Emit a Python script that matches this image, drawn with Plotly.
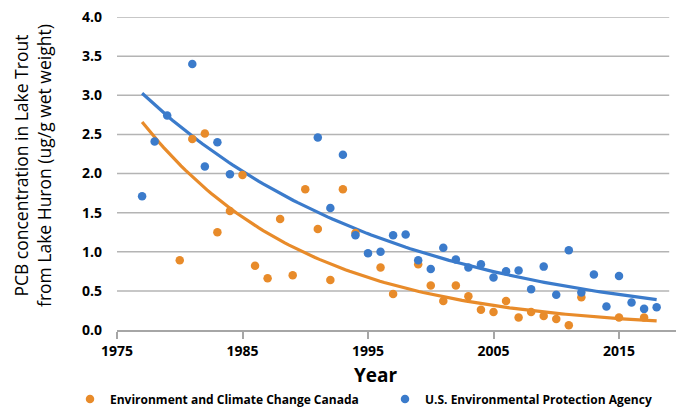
import numpy as np
import plotly.graph_objects as go

# ---- data ----
years_eccc = [1980, 1981, 1982, 1983, 1984, 1985, 1986, 1987, 1988, 1989, 1990, 1991, 1992,
              1993, 1994, 1996, 1997, 1999, 2000, 2001, 2002, 2003, 2004, 2005, 2006, 2007,
              2008, 2009, 2010, 2011, 2012, 2015, 2017]
pcb_eccc = [0.89, 2.44, 2.51, 1.25, 1.52, 1.98, 0.82, 0.66, 1.42, 0.70, 1.80, 1.29, 0.64,
            1.80, 1.24, 0.80, 0.46, 0.84, 0.57, 0.37, 0.57, 0.43, 0.26, 0.23, 0.37, 0.16,
            0.23, 0.18, 0.14, 0.06, 0.42, 0.16, 0.16]

years_epa = [1977, 1978, 1979, 1981, 1982, 1983, 1984, 1991, 1992, 1993, 1994, 1995, 1996,
             1997, 1998, 1999, 2000, 2001, 2002, 2003, 2004, 2005, 2006, 2007, 2008, 2009,
             2010, 2011, 2012, 2013, 2014, 2015, 2016, 2017, 2018]
pcb_epa = [1.71, 2.41, 2.74, 3.40, 2.09, 2.40, 1.99, 2.46, 1.56, 2.24, 1.21, 0.98, 1.00,
           1.21, 1.22, 0.89, 0.78, 1.05, 0.90, 0.80, 0.84, 0.67, 0.75, 0.76, 0.52, 0.81,
           0.45, 1.02, 0.48, 0.71, 0.30, 0.69, 0.35, 0.27, 0.29]

series_names = ["Environment and Climate Change Canada", "U.S. Environmental Protection Agency"]
trend_span = [1977, 2018]
x_ticks = [1975, 1985, 1995, 2005, 2015]
y_ticks = [0.0, 0.5, 1.0, 1.5, 2.0, 2.5, 3.0, 3.5, 4.0]

ORANGE = "#E88B2A"
BLUE = "#3B7BCB"


def exp_trend(x, y):
    """Excel-style exponential trendline: least squares on ln(y)."""
    b, a = np.polyfit(np.array(x, float), np.log(np.array(y, float)), 1)
    xs = np.linspace(trend_span[0], trend_span[1], 120)
    return xs, np.exp(a + b * xs)


# plot area in page pixels: x 117..683, y 17..330 (page has an 8px body margin)
def px(xp):
    return (xp - 117) / 566


def py(yp):
    return (330 - yp) / 313


fig = go.Figure()

for x, y, col in [(years_eccc, pcb_eccc, ORANGE), (years_epa, pcb_epa, BLUE)]:
    tx, ty = exp_trend(x, y)
    fig.add_trace(go.Scatter(x=tx, y=ty, mode="lines", line=dict(color=col, width=3.2),
                             showlegend=False, hoverinfo="skip"))

fig.add_trace(go.Scatter(x=years_eccc, y=pcb_eccc, mode="markers", name=series_names[0],
                         marker=dict(color=ORANGE, size=8.5)))
fig.add_trace(go.Scatter(x=years_epa, y=pcb_epa, mode="markers", name=series_names[1],
                         marker=dict(color=BLUE, size=8.5)))

# horizontal gridlines (end slightly before the axis line, as in the reference)
for v in y_ticks[1:]:
    fig.add_shape(type="line", xref="x", yref="y", x0=1975, x1=2019, y0=v, y1=v,
                  line=dict(color="#B4B4B4", width=1.5), layer="below")

fig.update_layout(
    width=676, height=399,
    margin=dict(l=109, r=1, t=9, b=77, autoexpand=False),
    plot_bgcolor="white", paper_bgcolor="white",
    font=dict(family="Open Sans, sans-serif", color="#000000"),
    xaxis=dict(range=[1975, 2020.1], tickvals=x_ticks, ticktext=[str(t) for t in x_ticks],
               showgrid=False, zeroline=False, showline=True, linecolor="#A6A6A6", linewidth=1.5,
               ticks="outside", ticklen=7, tickcolor="#A6A6A6", tickwidth=1.5,
               tickfont=dict(size=14, family="Open Sans, sans-serif", weight="bold")),
    yaxis=dict(range=[0, 4], tickvals=y_ticks, ticktext=[f"{t:.1f}" for t in y_ticks],
               showgrid=False, zeroline=False, showline=False, ticks="",
               ticklabelstandoff=14, ticklabeloverflow="allow",
               tickfont=dict(size=14, family="Open Sans, sans-serif", weight="bold")),
    showlegend=True,
    legend=dict(orientation="h", x=px(70), xanchor="left",
                y=py(399), yanchor="middle",
                font=dict(size=12, family="Open Sans, sans-serif", weight="bold"),
                itemwidth=30, entrywidth=270, tracegroupgap=0, bgcolor="rgba(0,0,0,0)"),
)

fig.add_annotation(text="<b>Year</b>", xref="paper", yref="paper",
                   x=px(376), y=py(375), xanchor="center", yanchor="middle",
                   showarrow=False, font=dict(size=19, family="Open Sans, sans-serif"))
fig.add_annotation(text="PCB concentration in Lake Trout<br>from Lake Huron (ug/g wet weight)",
                   xref="paper", yref="paper", x=px(32), y=py(166),
                   xanchor="center", yanchor="middle", textangle=-90, showarrow=False,
                   font=dict(size=17.5, family="Open Sans, sans-serif"))

fig.write_html("out.html")
